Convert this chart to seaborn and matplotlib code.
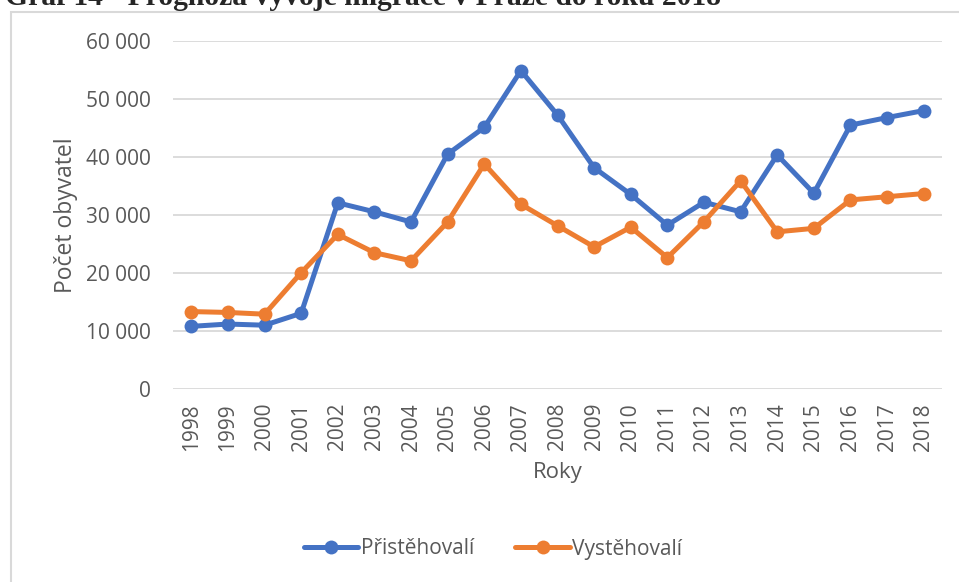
import pandas as pd
import seaborn as sns
import matplotlib.pyplot as plt
from matplotlib.patches import Rectangle
from matplotlib.ticker import FuncFormatter

# values
years = list(range(1998, 2019))
prist = [10800, 11200, 11000, 13050, 32100, 30550, 28800, 40500, 45100, 54900,
         47250, 38150, 33550, 28250, 32200, 30550, 40350, 33750, 45500, 46800, 48000]
vyst = [13350, 13200, 12900, 20050, 26650, 23500, 22100, 28800, 38800, 31850,
        28150, 24500, 27900, 22650, 28850, 35900, 27100, 27700, 32600, 33150, 33700]
series_names = ['Přistěhovalí', 'Vystěhovalí']
colors = ['#4472C4', '#ED7D31']

df = pd.DataFrame({'rok': years, series_names[0]: prist, series_names[1]: vyst})
df_long = df.melt(id_vars='rok', var_name='skupina', value_name='pocet')

sns.set_style('white')
plt.rcParams['font.family'] = ['Open Sans', 'DejaVu Sans']

fig = plt.figure(figsize=(9.59, 5.82), dpi=100)
ax = fig.add_axes([173 / 959, 1 - 389 / 582, (942 - 173) / 959, (389 - 41) / 582])

sns.lineplot(data=df_long, x='rok', y='pocet', hue='skupina', hue_order=series_names,
             palette=colors, marker='o', markersize=10, markeredgewidth=0,
             linewidth=3.6, ax=ax, legend=False)

ax.set_xlim(1997.5, 2018.5)
ax.set_ylim(0, 60000)
ax.set_xticks(years)
ax.set_xticklabels([str(y) for y in years], rotation=90)
ax.set_yticks(range(0, 60001, 10000))
ax.yaxis.set_major_formatter(FuncFormatter(lambda v, p: f'{int(v):,}'.replace(',', ' ')))
ax.grid(axis='y', color='#D9D9D9', linewidth=1.3)
ax.set_axisbelow(True)
for s in ax.spines.values():
    s.set_visible(False)
ax.tick_params(axis='both', length=0, labelsize=15, colors='#595959')
ax.tick_params(axis='y', pad=16)
ax.tick_params(axis='x', pad=10)

ax.set_xlabel('Roky', fontsize=16, color='#595959', labelpad=8)
ax.set_ylabel('Počet obyvatel', fontsize=16.5, color='#595959', labelpad=6)

# legend
handles = [plt.Line2D([], [], color=c, linewidth=3.6, marker='o', markersize=10,
                      markeredgewidth=0) for c in colors]
fig.legend(handles, series_names, loc='center', bbox_to_anchor=(493 / 959, 1 - 549 / 582),
           ncol=2, frameon=False, fontsize=15, handlelength=2.6, columnspacing=2.0,
           handletextpad=0.1, labelcolor='#595959')

# chart frame and clipped caption above it
fig.patches.append(Rectangle((11 / 959, -0.1), 1.2, 1.1 - 12 / 582, transform=fig.transFigure,
                             fill=False, edgecolor='#D9D9D9', linewidth=1.5))
fig.text(5 / 959, 1 - 5 / 582, 'Graf 14 - Prognóza vývoje migrace v Praze do roku 2018',
         family='Liberation Serif', fontweight='bold', fontsize=21.3, va='baseline', ha='left')

fig.savefig('out.png', dpi=100)
